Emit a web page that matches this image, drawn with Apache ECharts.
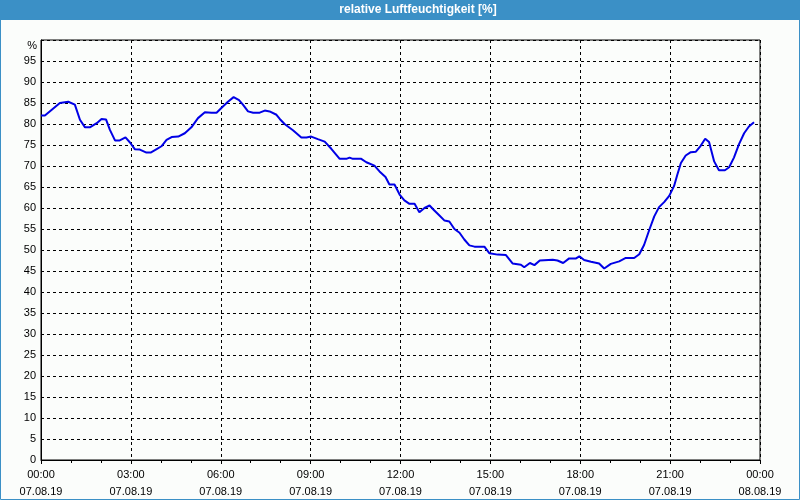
<!DOCTYPE html>
<html>
<head>
<meta charset="utf-8">
<script src="https://cdn.jsdelivr.net/npm/echarts@6/dist/echarts.min.js"></script>
<style>
html,body{margin:0;padding:0;background:#fbfdfb;}
#c{width:800px;height:500px;}
</style>
</head>
<body>
<div id="c"></div>
<script>
var titleText = 'relative Luftfeuchtigkeit [%]';
var yUnit = '%';
// time in hours since 07.08.19 00:00
var hours = [0,0.13,0.63,0.91,1.13,1.30,1.47,1.63,1.86,2.02,2.17,2.30,2.47,2.63,2.82,2.97,3.13,3.30,3.52,3.66,3.86,4.02,4.19,4.36,4.58,4.80,5.02,5.24,5.47,5.69,5.86,6.02,6.24,6.43,6.61,6.74,6.91,7.08,7.30,7.47,7.63,7.86,7.97,8.13,8.41,8.69,8.86,9.02,9.24,9.47,9.69,9.97,10.19,10.30,10.41,10.69,10.86,11.13,11.30,11.50,11.63,11.80,11.97,12.13,12.30,12.47,12.63,12.80,12.97,13.13,13.30,13.47,13.63,13.80,13.97,14.13,14.30,14.47,14.80,14.97,15.24,15.52,15.74,16.02,16.13,16.32,16.47,16.65,17.08,17.24,17.43,17.63,17.86,17.97,18.13,18.36,18.63,18.80,19.02,19.30,19.52,19.80,19.97,20.13,20.30,20.47,20.63,20.80,20.97,21.13,21.24,21.36,21.52,21.69,21.86,22.02,22.17,22.30,22.47,22.63,22.83,22.97,23.13,23.30,23.47,23.63,23.80];
var humidity = [82.0,82.0,85.0,85.3,84.6,81.0,79.2,79.2,80.2,81.2,81.1,78.6,76.1,76.1,76.8,75.6,74.0,73.9,73.2,73.2,74.0,74.7,76.2,76.9,77.0,77.8,79.2,81.4,82.8,82.7,82.7,83.8,85.3,86.4,85.7,84.6,83.0,82.7,82.7,83.2,83.0,82.2,81.2,80.0,78.5,76.8,76.8,77.0,76.4,75.8,74.1,71.7,71.7,72.0,71.7,71.7,70.9,70.1,68.7,67.4,65.6,65.6,63.2,61.8,61.0,61.0,59.0,60.0,60.6,59.4,58.2,57.0,56.8,55.0,54.1,52.5,51.1,50.8,50.8,49.2,48.9,48.8,46.8,46.5,45.9,46.9,46.4,47.5,47.7,47.5,46.9,48.0,48.0,48.5,47.6,47.2,46.8,45.6,46.7,47.3,48.1,48.1,49.0,51.2,54.7,58.0,60.2,61.4,62.9,65.2,67.9,70.7,72.5,73.3,73.4,74.8,76.5,75.7,71.1,69.0,69.0,69.7,72.0,75.2,77.8,79.4,80.4];
var xTickTimes = ['00:00','03:00','06:00','09:00','12:00','15:00','18:00','21:00','00:00'];
var xTickDates = ['07.08.19','07.08.19','07.08.19','07.08.19','07.08.19','07.08.19','07.08.19','07.08.19','08.08.19'];

var points = hours.map(function(h,i){ return [h, humidity[i]]; });
var font = '"Liberation Sans", Arial, sans-serif';

var chart = echarts.init(document.getElementById('c'), null, {renderer:'canvas'});
chart.setOption({
  backgroundColor: '#fbfdfb',
  animation: false,
  grid: {left: 41, right: 40, top: 40, bottom: 39, show: true, borderColor: '#000', borderWidth: 1, backgroundColor: 'transparent'},
  graphic: [
    {type:'rect', shape:{x:0,y:0,width:800,height:20}, style:{fill:'#3b90c6'}, z:10},
    {type:'rect', shape:{x:0.5,y:0.5,width:799,height:499}, style:{fill:null, stroke:'#3b90c6', lineWidth:1}, z:10},
    {type:'text', x:418, y:10, style:{text:titleText, fill:'#fff', font:'bold 12px "Liberation Sans", Arial, sans-serif', textAlign:'center', textVerticalAlign:'middle'}, z:11},
    {type:'text', x:37, y:46, style:{text:yUnit, fill:'#000', font:'11px "Liberation Sans", Arial, sans-serif', textAlign:'right', textVerticalAlign:'middle'}, z:11}
  ],
  xAxis: {
    type: 'value', min: 0, max: 24, interval: 3,
    axisLine: {show: true, lineStyle: {color: '#000', width: 1}},
    axisTick: {show: true, length: 4, lineStyle: {color: '#000'}},
    minorTick: {show: true, splitNumber: 3, length: 3, lineStyle: {color: '#000'}},
    splitLine: {show: true, lineStyle: {color: '#000', type: [3,3], width: 1}},
    axisLabel: {
      margin: 6, color: '#000', fontFamily: font, fontSize: 11, lineHeight: 17,
      formatter: function(v){ var i = Math.round(v/3); return xTickTimes[i] + '\n' + xTickDates[i]; }
    }
  },
  yAxis: {
    type: 'value', min: 0, max: 100, interval: 5,
    axisLine: {show: true, lineStyle: {color: '#000', width: 1}},
    axisTick: {show: false},
    splitLine: {show: true, lineStyle: {color: '#000', type: [3,3], width: 1}},
    axisLabel: {
      margin: 5, color: '#000', fontFamily: font, fontSize: 11,
      formatter: function(v){ return v === 100 ? '' : String(v); }
    }
  },
  series: [{
    type: 'line', data: points, showSymbol: false, symbol: 'none',
    lineStyle: {color: '#0000e6', width: 2},
    z: 5
  }]
});
</script>
</body>
</html>
